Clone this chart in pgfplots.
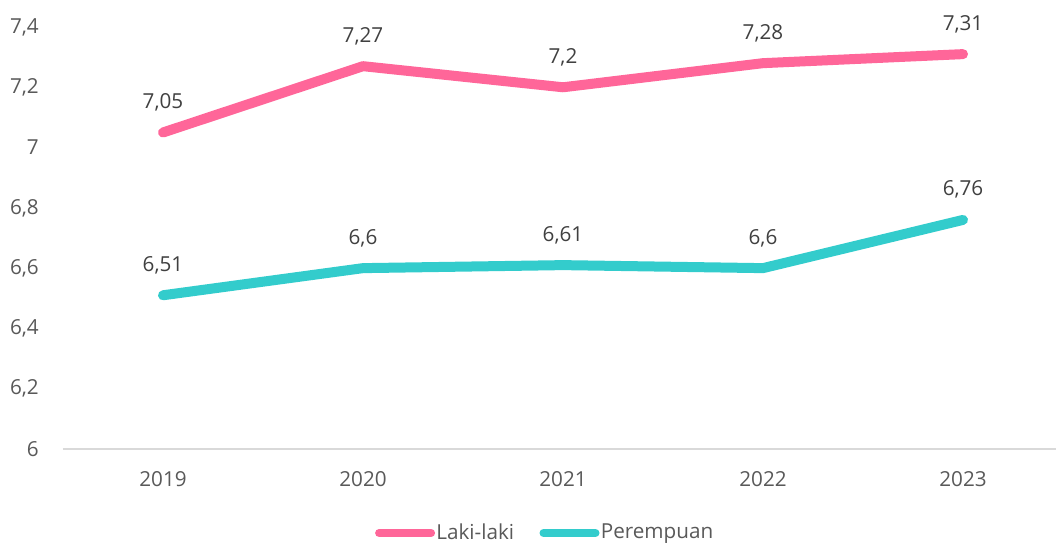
\documentclass[border=0pt]{standalone}
\usepackage{pgfplots}
\pgfplotsset{compat=1.18}
\usepackage{fontspec}
\setmainfont{Open Sans}
\definecolor{pinkline}{HTML}{FF6699}
\definecolor{tealline}{HTML}{33CCCC}
\definecolor{ticktext}{HTML}{595959}
\definecolor{labeltext}{HTML}{404040}
\definecolor{axisgray}{HTML}{D9D9D9}
\begin{document}
\fontsize{15.5pt}{18pt}\selectfont
\begin{tikzpicture}
\useasboundingbox (-47.25pt,-72pt) rectangle (744.75pt,336.75pt);
\begin{axis}[
  at={(0,0)}, anchor=south west,
  scale only axis,
  width=744.75pt, height=316.5pt,
  xmin=-0.5, xmax=4.465,
  ymin=6, ymax=7.4,
  ytick={6,6.2,...,7.41},
  xtick={0,1,2,3,4},
  xticklabels={2019,2020,2021,2022,2023},
  axis lines*=left,
  x axis line style={draw=axisgray, line width=1.5pt, -},
  y axis line style={draw=none},
  major tick length=0pt,
  /pgf/number format/.cd, use comma, assume math mode=true,
  /pgfplots/.cd,
  ticklabel style={font=\fontsize{15.5pt}{18pt}\selectfont, text=ticktext},
  yticklabel style={anchor=east, inner sep=0pt, xshift=-18pt},
  xticklabel style={anchor=north, inner sep=0pt, yshift=-17pt},
  tick style={draw=none},
  clip=false,
  nodes near coords,
  every node near coord/.append style={anchor=base, inner sep=0pt, yshift=18pt, text=labeltext, font=\fontsize{15.5pt}{18pt}\selectfont},
  legend columns=2,
  legend style={at={(axis description cs:0.5,0)}, anchor=center, yshift=-63pt, xshift=-11pt, draw=none, fill=none, font=\fontsize{15.5pt}{18pt}\selectfont, text=ticktext, nodes={inner sep=1pt}, /tikz/every even column/.append style={column sep=18pt}},
  legend image code/.code={\draw[#1, line width=6pt, line cap=round] (3pt,0pt) -- (42pt,0pt);},
]
\addplot[pinkline, line width=7.5pt, line cap=round, line join=round] coordinates {(0,7.05) (1,7.27) (2,7.2) (3,7.28) (4,7.31)};
\addlegendentry{Laki-laki}
\addplot[tealline, line width=7.5pt, line cap=round, line join=round] coordinates {(0,6.51) (1,6.6) (2,6.61) (3,6.6) (4,6.76)};
\addlegendentry{Perempuan}
\end{axis}
\end{tikzpicture}
\end{document}
